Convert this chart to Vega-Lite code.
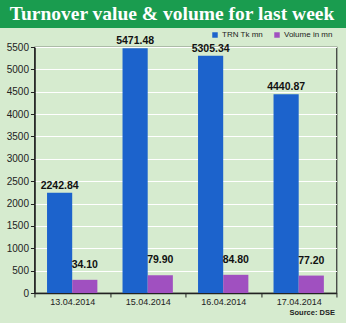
{
  "$schema": "https://vega.github.io/schema/vega-lite/v6.json",
  "autosize": {"type": "pad"},
  "padding": {"left": 0, "top": 0, "right": 0, "bottom": 6},
  "background": "#d6ebcf",
  "spacing": 7,
  "center": true,
  "config": {"view": {"stroke": null}, "font": "Liberation Sans"},
  "vconcat": [
    {
      "width": 372,
      "height": 28,
      "view": {"fill": "#1a9c4f", "stroke": null},
      "data": {"values": [{"t": "Turnover value & volume for last week"}]},
      "mark": {"type": "text", "font": "Liberation Serif", "fontSize": 19.5, "fontWeight": "bold", "color": "white", "align": "center", "baseline": "middle", "dx": -14},
      "encoding": {"text": {"field": "t"}}
    },
    {
      "width": 302,
      "height": 246,
      "view": {"stroke": "#333333", "strokeWidth": 1.2},
      "data": {"values": [
        {"date": "13.04.2014", "series": "TRN Tk mn", "value": 2242.84},
        {"date": "13.04.2014", "series": "Volume in mn", "value": 34.10},
        {"date": "15.04.2014", "series": "TRN Tk mn", "value": 5471.48},
        {"date": "15.04.2014", "series": "Volume in mn", "value": 79.90},
        {"date": "16.04.2014", "series": "TRN Tk mn", "value": 5305.34},
        {"date": "16.04.2014", "series": "Volume in mn", "value": 84.80},
        {"date": "17.04.2014", "series": "TRN Tk mn", "value": 4440.87},
        {"date": "17.04.2014", "series": "Volume in mn", "value": 77.20}
      ]},
      "encoding": {
        "x": {"field": "date", "type": "nominal", "sort": null,
          "scale": {"paddingInner": 0, "paddingOuter": 0},
          "axis": {"labelAngle": 0, "tickBand": "extent", "labelFontSize": 9, "labelColor": "#222222", "labelPadding": 0,
            "domainColor": "#222222", "domainWidth": 1.5, "tickColor": "#222222", "tickSize": 4,
            "title": "Source: DSE", "titleAnchor": "end", "titleAlign": "right", "titleX": 300, "titleFontSize": 7.5, "titleFontWeight": "bold", "titleColor": "#222222", "titlePadding": 2}},
        "xOffset": {"field": "series", "type": "nominal", "sort": ["TRN Tk mn", "Volume in mn"],
          "scale": {"paddingInner": 0, "paddingOuter": 0.5}}
      },
      "layer": [
        {
          "transform": [{"filter": "datum.series === 'TRN Tk mn'"}],
          "mark": {"type": "bar"},
          "encoding": {
            "y": {"field": "value", "type": "quantitative", "scale": {"domain": [0, 5500], "nice": false},
              "axis": {"values": [0, 500, 1000, 1500, 2000, 2500, 3000, 3500, 4000, 4500, 5000, 5500], "format": "d", "title": null,
                "grid": true, "gridColor": "#ffffff", "gridWidth": 1, "domainColor": "#222222", "domainWidth": 1.5,
                "tickColor": "#222222", "tickSize": 4, "labelFontSize": 10, "labelColor": "#222222", "labelPadding": 2}},
            "color": {"field": "series", "type": "nominal",
              "scale": {"domain": ["TRN Tk mn", "Volume in mn"], "range": ["#1c63cc", "#a050c0"]},
              "legend": {"orient": "none", "legendX": 211, "legendY": 31, "direction": "horizontal", "title": null,
                "symbolType": "square", "symbolSize": 30, "labelFontSize": 8, "labelColor": "#222222", "columnPadding": 10, "labelOffset": 3}}
          }
        },
        {
          "transform": [{"filter": "datum.series === 'TRN Tk mn'"}],
          "mark": {"type": "text", "baseline": "bottom", "dy": -2, "fontSize": 10.5, "fontWeight": "bold", "color": "#111111"},
          "encoding": {
            "y": {"field": "value", "type": "quantitative", "scale": {"domain": [0, 5500], "nice": false}, "axis": null},
            "text": {"field": "value", "type": "quantitative", "format": ".2f"}
          }
        },
        {
          "transform": [{"filter": "datum.series === 'Volume in mn'"}],
          "mark": {"type": "bar"},
          "encoding": {
            "y": {"field": "value", "type": "quantitative", "scale": {"domain": [-100, 2400], "nice": false, "zero": false}, "axis": null},
            "y2": {"datum": -100},
            "color": {"field": "series", "type": "nominal"}
          }
        },
        {
          "transform": [{"filter": "datum.series === 'Volume in mn'"}],
          "mark": {"type": "text", "baseline": "bottom", "dy": -10, "fontSize": 10.5, "fontWeight": "bold", "color": "#111111"},
          "encoding": {
            "y": {"field": "value", "type": "quantitative", "scale": {"domain": [-100, 2400], "nice": false, "zero": false}, "axis": null},
            "text": {"field": "value", "type": "quantitative", "format": ".2f"}
          }
        }
      ],
      "resolve": {"scale": {"y": "independent"}}
    }
  ]
}
